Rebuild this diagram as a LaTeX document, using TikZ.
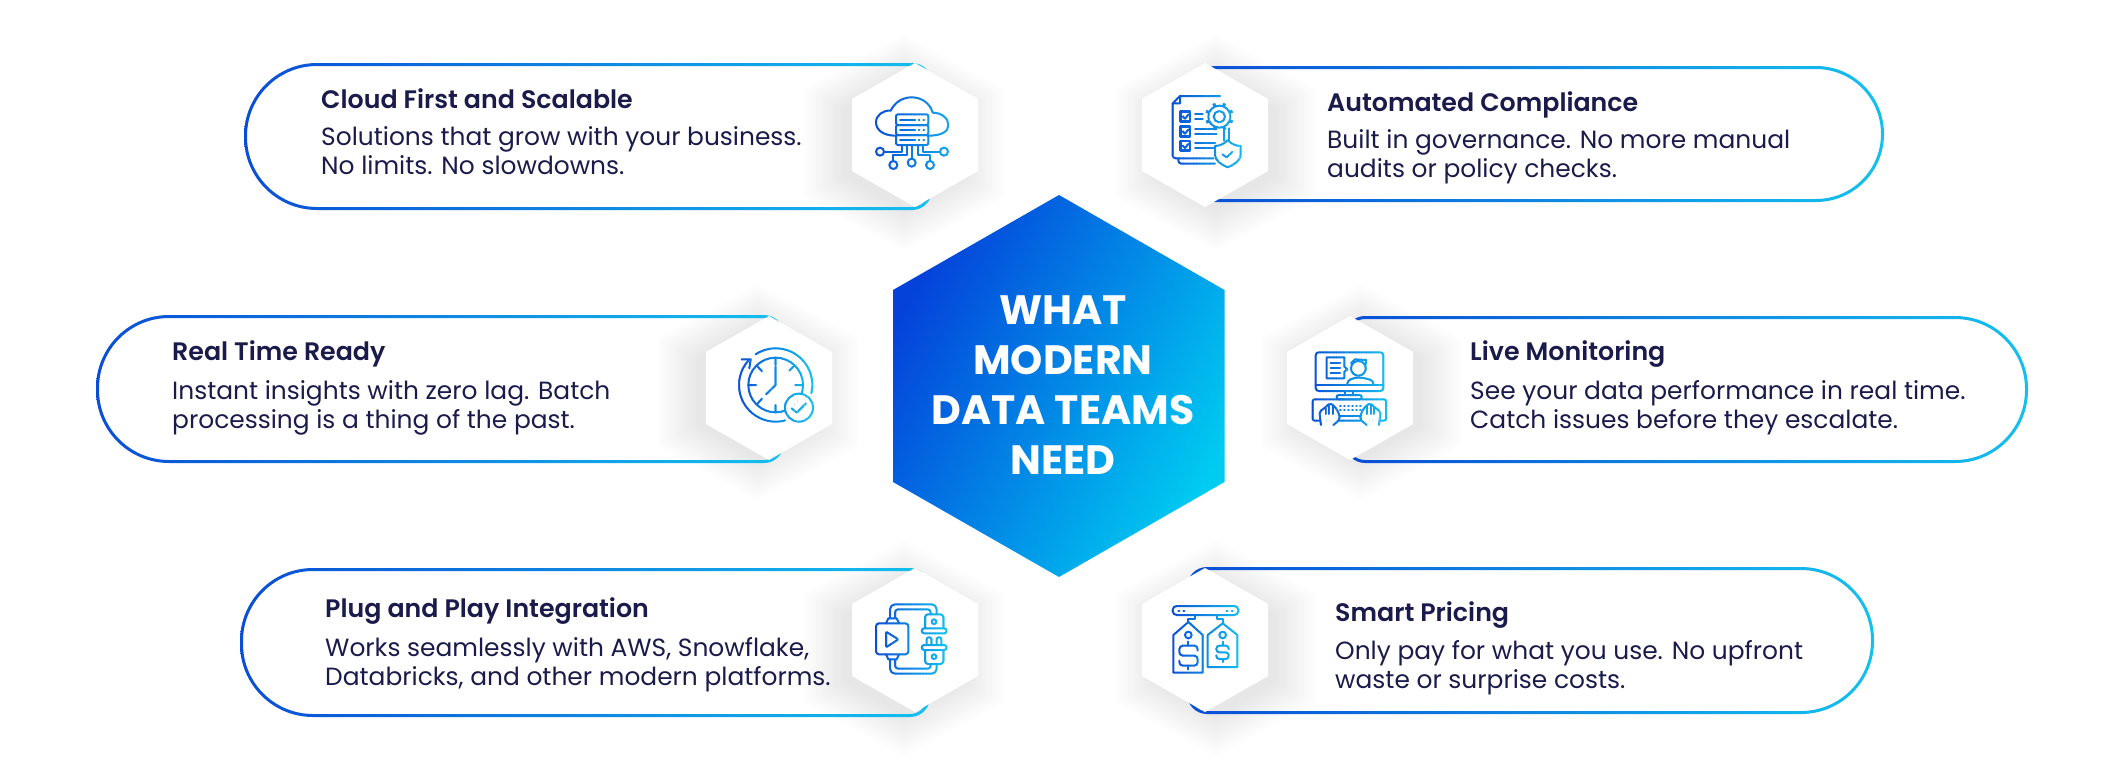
\documentclass[tikz,border=0pt]{standalone}
\usepackage{fontspec}
\setmainfont{Poppins}
\newfontfamily\semib{Poppins SemiBold}
\definecolor{inkc}{HTML}{1A1B4B}
\definecolor{icA}{HTML}{0A4ED6}
\definecolor{icB}{HTML}{14C0EE}
\definecolor{hexA}{HTML}{0442DA}
\definecolor{hexB}{HTML}{00CBF1}
\tikzset{
  il/.style={draw=iccur,line width=2pt,line cap=round,line join=round},
  ilf/.style={il,fill=white},
  titletext/.style={anchor=base west,inner sep=0pt,text=inkc,font=\semib\fontsize{25.3}{29}\selectfont},
  bodytext/.style={anchor=base west,inner sep=0pt,text=inkc,align=left,font=\fontsize{24.9}{29}\selectfont},
  coretext/.style={inner sep=0pt,text=white,align=center,font=\bfseries\fontsize{41}{50}\selectfont},
}
% hexagon path: cx cy halfwidth halfheight
\newcommand\hexp[4]{({#1},{(#2)-(#4)})--({(#1)+(#3)},{(#2)-(#4)/2})--({(#1)+(#3)},{(#2)+(#4)/2})--({#1},{(#2)+(#4)})--({(#1)-(#3)},{(#2)+(#4)/2})--({(#1)-(#3)},{(#2)-(#4)/2})--cycle}
% soft shadow: cx cy dx dy
\newcommand\softshadow[4]{\foreach \sg in {1,...,24}{
  \fill[black,opacity=.005] \hexp{(#1)+(#3)}{(#2)+(#4)}{58+1.8*\sg}{66+1.8*\sg};}}
\newcommand\whitehex[2]{\fill[white] \hexp{#1}{#2}{63}{72};}
% pill: x0 y0 x1 y1 rleft rright
\newcommand\pillring[6]{\path[even odd rule,left color=icA,right color=icB]
  (#1+#5,#2)--(#3-#6,#2) arc[start angle=-90,end angle=0,radius=#6]--(#3,#4-#6)
  arc[start angle=0,end angle=90,radius=#6]--(#1+#5,#4)
  arc[start angle=90,end angle=180,radius=#5]--(#1,#2+#5)
  arc[start angle=180,end angle=270,radius=#5]--cycle
  (#1+#5,#2+3)--(#3-#6,#2+3) arc[start angle=-90,end angle=0,radius=#6-3]--(#3-3,#4-#6)
  arc[start angle=0,end angle=90,radius=#6-3]--(#1+#5,#4-3)
  arc[start angle=90,end angle=180,radius=#5-3]--(#1+3,#2+#5)
  arc[start angle=180,end angle=270,radius=#5-3]--cycle;}
% gradient icon: xmin bandwidth originx originy body
\newcommand\bandicon[5]{\foreach \bi in {0,...,23}{
  \pgfmathsetmacro\bp{\bi/23*100}
  \colorlet{iccur}{icB!\bp!icA}
  \begin{scope}
    \clip (#1+\bi*#2,0) rectangle (#1+\bi*#2+#2+.4,771);
    \begin{scope}[shift={(#3,#4)},scale=1/3] #5 \end{scope}
  \end{scope}}}
\newcommand\icCloud{%
  \draw[il] (136,197) .. controls (100,197) and (78,180) .. (78,157) .. controls (78,135) and (100,120) .. (122,122) .. controls (135,95) and (160,82) .. (185,82) .. controls (215,82) and (240,100) .. (248,128) .. controls (275,128) and (295,145) .. (295,165) .. controls (295,185) and (275,197) .. (235,197);
  \foreach \ya/\yb in {133/165,165/195,195/225}{
    \draw[il,rounded corners=2pt] (138,\ya) rectangle (235,\yb);
    \draw[il] (150,{(\ya+\yb)/2})--(195,{(\ya+\yb)/2}) (206,{(\ya+\yb)/2})--(208,{(\ya+\yb)/2}) (220,{(\ya+\yb)/2})--(222,{(\ya+\yb)/2});}
  \draw[il] (155,225)--(155,245)--(103,245) (170,225)--(170,255)--(130,255)--(130,272) (185,225)--(185,265) (205,225)--(205,255)--(240,255)--(240,272) (220,225)--(220,245)--(269,245);
  \draw[il] (90,245) circle[radius=12] (130,285) circle[radius=12] (185,278) circle[radius=12] (240,285) circle[radius=12] (282,245) circle[radius=12];}
\newcommand\icClock{%
  \draw[il] (287,225) ++(-123:110) arc[start angle=-123,end angle=13,radius=110];
  \draw[il] (287,225) ++(75:110) arc[start angle=75,end angle=222,radius=110];
  \draw[il] (185,148)--(212,148)--(208,175);
  \draw[il] (287,225) circle[radius=82];
  \draw[il] (287,143)--(287,165) (370,225)--(346,225) (287,285)--(287,306) (205,225)--(228,225) (233,170)--(246,184) (342,168)--(328,182) (233,280)--(246,266);
  \draw[il] (287,170)--(287,225)--(258,253);
  \draw[ilf] (357,293) circle[radius=42];
  \draw[il] (335,295)--(350,308)--(378,280);}
\newcommand\icPlug{%
  \draw[il,rounded corners=3pt] (108,100) rectangle (205,193);
  \draw[il,rounded corners=1pt] (138,125)--(175,148)--(138,172)--cycle;
  \draw[il] (138,100)--(145,85)--(170,85)--(177,100) (138,193)--(145,208)--(170,208)--(177,193);
  \draw[il,rounded corners=5pt] (150,85)--(150,43)--(290,43)--(290,73);
  \draw[il,rounded corners=3pt] (165,85)--(165,58)--(272,58)--(272,73);
  \draw[il,rounded corners=5pt] (150,208)--(150,251)--(290,251)--(290,222);
  \draw[il,rounded corners=3pt] (165,208)--(165,236)--(272,236)--(272,222);
  \draw[il,rounded corners=3pt] (255,115)--(255,73)--(310,73)--(310,115);
  \draw[il,rounded corners=2.5pt] (245,115) rectangle (320,130);
  \draw[il] (282,95) circle[radius=7];
  \draw[il,rounded corners=2.5pt] (245,165) rectangle (320,180);
  \draw[il,rounded corners=3pt] (255,180)--(255,222)--(310,222)--(310,180);
  \draw[il] (282,200) circle[radius=7];
  \draw[il,rounded corners=2pt] (260,165)--(260,142)--(274,142)--(274,165);
  \draw[il,rounded corners=2pt] (290,165)--(290,142)--(304,142)--(304,165);}
\newcommand\icTags{%
  \draw[il,rounded corners=4pt] (128,48) rectangle (325,75);
  \draw[il] (145,62)--(148,62) (160,62)--(163,62) (290,62)--(293,62) (305,62)--(308,62);
  \draw[il] (175,96)--(175,88)--(195,88)--(195,75) (262,75)--(262,88)--(278,88)--(278,100);
  \draw[il] (130,248)--(130,135)--(175,96)--(218,135)--(218,248)--cycle;
  \draw[il] (175,135) circle[radius=10];
  \draw[il,rounded corners=3.5pt] (203,182)--(203,167)--(148,167)--(148,197)--(203,197)--(203,227)--(148,227)--(148,212);
  \draw[il] (175,155)--(175,167) (175,227)--(175,238);
  \draw[il] (233,231)--(233,135)--(278,100)--(322,135)--(322,231)--cycle;
  \draw[il] (278,135) circle[radius=10];
  \draw[il,rounded corners=3pt] (296,178)--(296,167)--(259,167)--(259,187)--(296,187)--(296,207)--(259,207)--(259,196);
  \draw[il] (278,155)--(278,167) (278,207)--(278,216);}
\newcommand\icComply{%
  \draw[il] (128,130)--(150,108)--(270,108) (150,108)--(150,130)--(128,130);
  \draw[il,rounded corners=3pt] (128,130)--(128,295)--(250,295);
  \draw[il,rounded corners=3pt] (145,295)--(145,311)--(255,311);
  \foreach \yy in {155,200,243}{
    \draw[il,line width=2.4pt] (151,\yy) rectangle (180,\yy+29);
    \draw[il] (158,\yy+14)--(165,\yy+21)--(176,\yy+8);}
  \draw[il] (195,163)--(218,163) (195,178)--(218,178) (195,208)--(260,208) (195,222)--(260,222) (195,250)--(255,250) (195,265)--(255,265);
  \draw[il] (282,205)--(282,242) (296,205)--(296,242);
  \draw[ilf] (268,170) circle[radius=33];
  \foreach \ga in {0,45,...,315}{
    \draw[il,line width=3pt,line cap=butt] (268,170) ++(\ga+22:33)--++(\ga+22:10);}
  \draw[il] (268,170) circle[radius=17];
  \draw[ilf] (255,258) .. controls (270,258) and (285,250) .. (293,240) .. controls (301,250) and (316,258) .. (332,258)--(332,285) .. controls (332,300) and (312,315) .. (293,322) .. controls (274,315) and (255,300) .. (255,285)--cycle;
  \draw[il] (277,283)--(290,292)--(308,275);}
\newcommand\icScreen{%
  \draw[il,rounded corners=3pt] (77,67) rectangle (280,183);
  \draw[il] (77,165)--(280,165);
  \draw[il] (110,82)--(163,82)--(163,110)--(172,118)--(163,125)--(163,145)--(110,145)--cycle;
  \draw[il] (122,98)--(150,98) (122,113)--(150,113) (122,128)--(150,128);
  \draw[il] (205,115) circle[radius=22];
  \draw[il] (183,100)--(195,88)--(228,90)--(226,105);
  \draw[il,rounded corners=3pt] (172,165)--(172,152)--(195,143)--(218,143)--(250,152)--(250,165);
  \draw[il] (165,183)--(165,195) (190,183)--(190,195);
  \draw[il,rounded corners=2pt] (140,195) rectangle (215,208);
  \draw[il,rounded corners=2pt] (68,208) rectangle (288,272);
  \foreach \kx in {150,162,174,186,198,210}{
    \draw[il,line width=1.4pt] (\kx,228)--(\kx+3,228) (\kx,240)--(\kx+3,240);}
  \draw[il] (150,257)--(210,257);
  \draw[ilf,rounded corners=2pt] (93,285)--(88,245)--(107,232)--(118,220)--(130,225)--(145,245)--(150,268)--(130,285);
  \draw[il] (107,232)--(107,252) (118,222)--(118,252) (130,228)--(130,252);
  \draw[ilf,rounded corners=2pt] (267,285)--(272,245)--(253,232)--(242,220)--(230,225)--(215,245)--(210,268)--(230,285);
  \draw[il] (253,232)--(253,252) (242,222)--(242,252) (230,228)--(230,252);}
\begin{document}
\begin{tikzpicture}[x=1pt,y=-1pt]
\useasboundingbox (0,0) rectangle (2125,771);
% shadows
\softshadow{915}{135}{-11}{8}
\softshadow{769}{388}{-11}{4}
\softshadow{915}{640}{-11}{8}
\softshadow{1205}{135}{11}{8}
\softshadow{1350}{388}{11}{4}
\softshadow{1205}{640}{11}{8}
% pills
\pillring{244}{63}{932}{210}{73}{20}
\pillring{96}{315}{784}{463}{73}{20}
\pillring{240}{568}{930}{717}{73}{20}
\pillring{1195}{66}{1884}{202}{20}{68}
\pillring{1345}{316}{2028}{463}{20}{73}
\pillring{1187}{567}{1874}{714}{20}{73}
% small hexagons
\whitehex{915}{135}
\whitehex{769}{388}
\whitehex{915}{640}
\whitehex{1205}{135}
\whitehex{1350}{388}
\whitehex{1205}{640}
% icons
\bandicon{875}{4}{850}{70}{\icCloud}
\bandicon{735}{3.3}{680}{310}{\icClock}
\bandicon{875}{3}{840}{590}{\icPlug}
\bandicon{1170}{3}{1130}{590}{\icTags}
\bandicon{1170}{3.3}{1130}{60}{\icComply}
\bandicon{1310}{3.3}{1290}{330}{\icScreen}
% centre hexagon
\path[top color=hexA,bottom color=hexB,shading angle=62]
  (1059,195)--(1224.5,290)--(1224.5,482)--(1059,577)--(893,482)--(893,290)--cycle;
\node[coretext,anchor=base] (core) at (1063,474) {WHAT\\MODERN\\DATA TEAMS\\NEED};
% texts
\node[titletext] (t1) at (321,108) {Cloud First and Scalable};
\node[bodytext] (b1) at (321,174) {Solutions that grow with your business.\\No limits. No slowdowns.};
\node[titletext] (t2) at (172,360) {Real Time Ready};
\node[bodytext] (b2) at (172,428) {Instant insights with zero lag. Batch\\processing is a thing of the past.};
\node[titletext] (t3) at (325,617) {Plug and Play Integration};
\node[bodytext] (b3) at (325,685) {Works seamlessly with AWS, Snowflake,\\Databricks, and other modern platforms.};
\node[titletext] (t4) at (1327,111) {Automated Compliance};
\node[bodytext] (b4) at (1327,177) {Built in governance. No more manual\\audits or policy checks.};
\node[titletext] (t5) at (1470,360) {Live Monitoring};
\node[bodytext] (b5) at (1470,428) {See your data performance in real time.\\Catch issues before they escalate.};
\node[titletext] (t6) at (1335,621) {Smart Pricing};
\node[bodytext] (b6) at (1335,688) {Only pay for what you use. No upfront\\waste or surprise costs.};
\end{tikzpicture}
\end{document}
